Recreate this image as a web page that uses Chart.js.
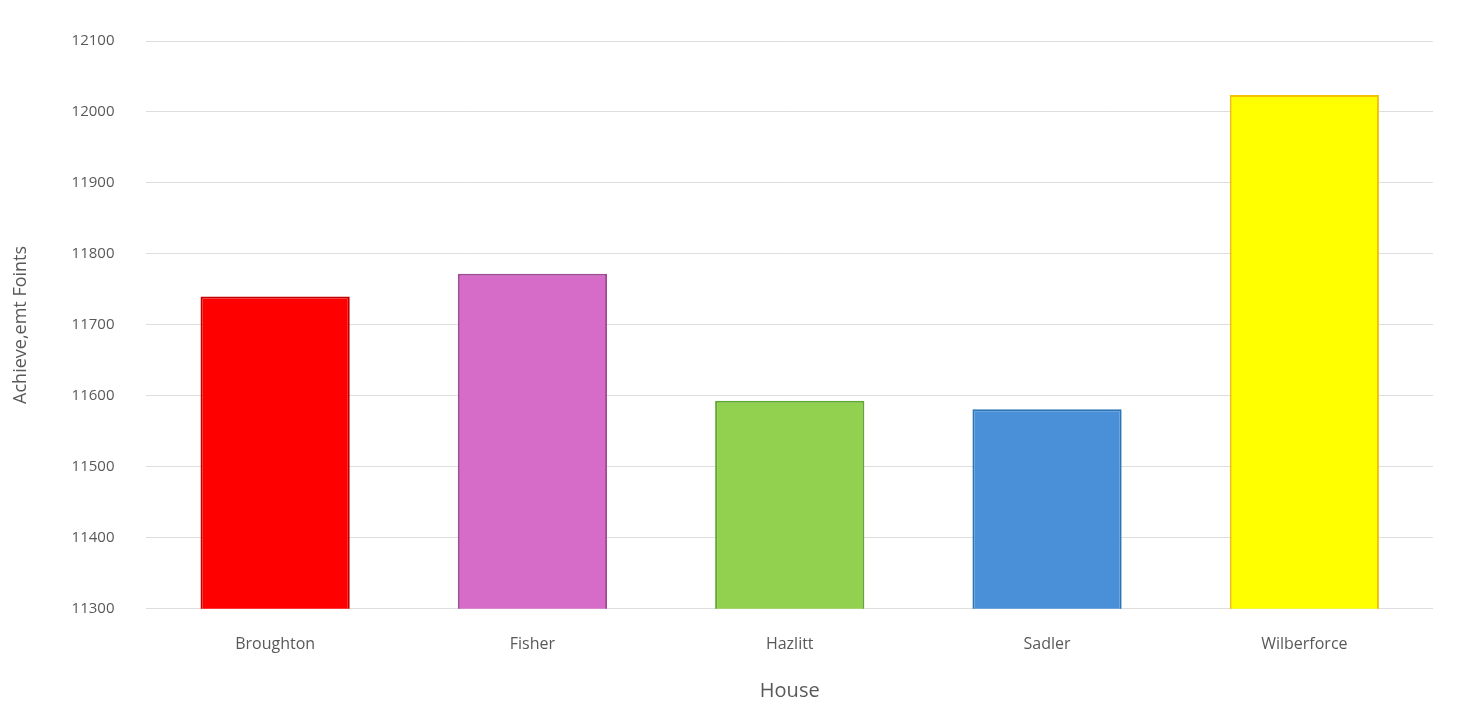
<!DOCTYPE html>
<html>
<head>
<meta charset="utf-8">
<script src="https://cdn.jsdelivr.net/npm/chart.js@4.4.1/dist/chart.umd.min.js"></script>
<style>
  html, body { margin: 0; padding: 0; background: #fff; }
  #wrap { width: 1459px; height: 719px; }
</style>
</head>
<body>
<div id="wrap"><canvas id="houseChart"></canvas></div>
<script>
// House achievement points
const houses = ['Broughton', 'Fisher', 'Hazlitt', 'Sadler', 'Wilberforce'];
const points = [11740, 11772, 11593, 11581, 12024];
const barFills = ['#ff0000', '#d66bc8', '#92d050', '#4a90d9', '#ffff00'];
const barEdges = ['#c00000', '#a04a98', '#5ea832', '#2e75b6', '#f2c200'];
const yMin = 11300;
const yMax = 12100;
const yStep = 100;

const TEXT = '#595959';
const FONT = "'Open Sans', sans-serif";

new Chart(document.getElementById('houseChart').getContext('2d'), {
  type: 'bar',
  data: {
    labels: houses,
    datasets: [{
      data: points,
      backgroundColor: barFills,
      borderColor: barEdges,
      borderWidth: 2,
      borderSkipped: 'bottom',
      categoryPercentage: 0.58,
      barPercentage: 1
    }]
  },
  options: {
    responsive: true,
    maintainAspectRatio: false,
    animation: false,
    layout: { padding: { top: 35, right: 26, bottom: 12, left: 6 } },
    plugins: {
      legend: { display: false },
      tooltip: { enabled: false }
    },
    scales: {
      x: {
        grid: { display: false },
        border: { display: false },
        ticks: { color: TEXT, font: { family: FONT, size: 16 }, padding: 18 },
        title: { display: true, text: 'House', color: TEXT, font: { family: FONT, size: 20 }, padding: { top: 7 } }
      },
      y: {
        min: yMin,
        max: yMax,
        grid: { color: '#dedede', lineWidth: 1, drawTicks: false },
        border: { display: false },
        ticks: {
          stepSize: yStep, color: TEXT, font: { family: FONT, size: 15 }, padding: 32,
          callback: v => String(v)
        },
        title: { display: true, text: 'Achieve,emt Foints', color: TEXT, font: { family: FONT, size: 18 }, padding: { bottom: 8 } }
      }
    }
  }
});
</script>
</body>
</html>
